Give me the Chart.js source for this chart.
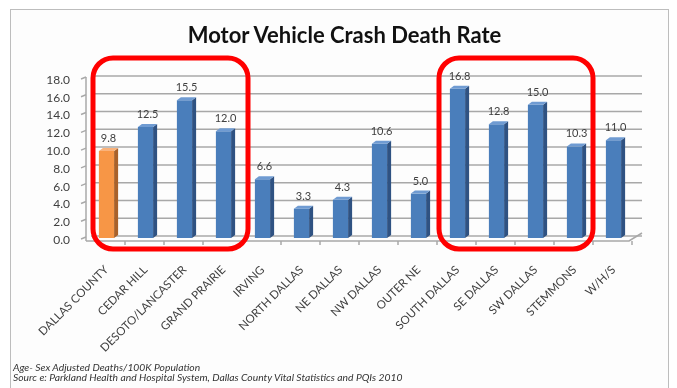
<!DOCTYPE html>
<html>
<head>
<meta charset="utf-8">
<script src="https://cdn.jsdelivr.net/npm/chart.js@4/dist/chart.umd.min.js"></script>
<style>
  html, body { margin: 0; padding: 0; background: #ffffff; }
  #wrap { position: relative; width: 677px; height: 388px; overflow: hidden; }
  #frame { position: absolute; left: 10px; top: 9px; width: 657px; height: 400px; border: 1.5px solid #bdbdbd; background: #fdfdfd; }
  #myChart { position: absolute; left: 0; top: 0; }
  #title { position: absolute; left: 0; width: 689px; top: 21px; text-align: center; font-family: Lato, 'Liberation Sans', sans-serif; font-weight: bold; font-size: 22px; color: #111; }
  .note { position: absolute; left: 13px; font-family: Lato, 'Liberation Sans', sans-serif; font-style: italic; font-size: 10.3px; color: #333; white-space: nowrap; }
</style>
</head>
<body>
<div id="wrap">
  <div id="frame"></div>
  <canvas id="myChart" width="677" height="388"></canvas>
  <div id="title">Motor Vehicle Crash Death Rate</div>
  <div class="note" style="top:361px">Age- Sex Adjusted Deaths/100K Population</div>
  <div class="note" style="top:371px">Sourc e: Parkland Health and Hospital System, Dallas County Vital Statistics and PQIs 2010</div>
</div>
<script>
let barCtx = document.getElementById('myChart').getContext('2d');

// areas and their rates
const areas = ['DALLAS COUNTY', 'CEDAR HILL', 'DESOTO/LANCASTER', 'GRAND PRAIRIE', 'IRVING',
    'NORTH DALLAS', 'NE DALLAS', 'NW DALLAS', 'OUTER NE', 'SOUTH DALLAS', 'SE DALLAS',
    'SW DALLAS', 'STEMMONS', 'W/H/S'];
const deathRates = [9.8, 12.5, 15.5, 12.0, 6.6, 3.3, 4.3, 10.6, 5.0, 16.8, 12.8, 15.0, 10.3, 11.0];
const yTicks = [0, 2, 4, 6, 8, 10, 12, 14, 16, 18];
// groups circled in red (first and last category index)
const circledGroups = [[0, 3], [9, 12]];

const blue = { front: '#4a7ebb', side: '#2f5282', top: '#6f9bd2' };
const orange = { front: '#f79646', side: '#a9612a', top: '#fab27a' };
const pick = (i) => i === 0 ? orange : blue;

const font = "Lato, 'Liberation Sans', sans-serif";

// 3d-ish box frame behind the bars: back wall lines, axis, floor
const wallPlugin = {
    id: 'wall',
    beforeDatasetsDraw(chart) {
        const { ctx, chartArea: a, scales: { x, y } } = chart;
        const y0 = y.getPixelForValue(0);
        ctx.save();
        ctx.strokeStyle = '#a8a8a8';
        ctx.lineWidth = 1.5;
        yTicks.forEach(v => {
            const py = y.getPixelForValue(v) - 2;
            ctx.beginPath();
            ctx.moveTo(a.left + 4, py);
            ctx.lineTo(a.right + 9, py);
            ctx.stroke();
            // small tick at the front axis
            ctx.beginPath();
            ctx.moveTo(a.left - 6, py + 3);
            ctx.lineTo(a.left - 1, py + 1);
            ctx.stroke();
        });
        // front axis
        ctx.beginPath();
        ctx.moveTo(a.left - 1, y.getPixelForValue(18) - 1);
        ctx.lineTo(a.left - 1, y0 + 3);
        ctx.stroke();
        // floor edges
        ctx.beginPath();
        ctx.moveTo(a.left - 1, y0 + 3);
        ctx.lineTo(a.right - 4, y0 + 3);
        ctx.lineTo(a.right + 9, y0 - 5);
        ctx.stroke();
        const step = x.getPixelForValue(1) - x.getPixelForValue(0);
        for (let i = 1; i <= areas.length; i++) {
            const px = x.getPixelForValue(i) - step / 2 - 1;
            ctx.beginPath();
            ctx.moveTo(px, y0 + 3);
            ctx.lineTo(px, y0 + 7);
            ctx.stroke();
        }
        ctx.restore();
    },
    afterDatasetsDraw(chart) {
        const { ctx, scales: { x, y } } = chart;
        const meta = chart.getDatasetMeta(0);
        const d = 4, dd = 3;
        ctx.save();
        meta.data.forEach((bar, i) => {
            const c = pick(i);
            const l = bar.x - bar.width / 2, r = bar.x + bar.width / 2;
            // side face
            ctx.fillStyle = c.side;
            ctx.beginPath();
            ctx.moveTo(r, bar.y);
            ctx.lineTo(r + d, bar.y - dd);
            ctx.lineTo(r + d, bar.base - dd);
            ctx.lineTo(r, bar.base);
            ctx.closePath();
            ctx.fill();
            // top face
            ctx.fillStyle = c.top;
            ctx.beginPath();
            ctx.moveTo(l, bar.y);
            ctx.lineTo(l + d, bar.y - dd);
            ctx.lineTo(r + d, bar.y - dd);
            ctx.lineTo(r, bar.y);
            ctx.closePath();
            ctx.fill();
            // value label
            ctx.fillStyle = '#404040';
            ctx.font = '11px ' + font;
            ctx.textAlign = 'center';
            ctx.textBaseline = 'bottom';
            ctx.fillText(deathRates[i].toFixed(1), bar.x + 2, bar.y - 7);
        });

        // red rounded boxes round the circled groups
        const step = x.getPixelForValue(1) - x.getPixelForValue(0);
        const top = y.getPixelForValue(18) - 20;
        const bottom = y.getPixelForValue(0) + 11;
        ctx.strokeStyle = '#ff0000';
        ctx.lineWidth = 5;
        circledGroups.forEach(([a, b], k) => {
            const left = x.getPixelForValue(a) - step / 2 + (k === 0 ? 6 : 1);
            const right = x.getPixelForValue(b) + step / 2 + (k === 0 ? 5 : -1);
            ctx.beginPath();
            ctx.roundRect(left, top, right - left, bottom - top, 20);
            ctx.stroke();
        });
        ctx.restore();
    }
};

new Chart(barCtx, {
    type: 'bar',
    data: {
        labels: areas,
        datasets: [{
            data: deathRates,
            backgroundColor: areas.map((_, i) => pick(i).front),
            barPercentage: 0.39,
            categoryPercentage: 1
        }]
    },
    options: {
        responsive: false,
        animation: false,
        layout: { padding: { left: 0, right: 44, top: 78, bottom: 0 } },
        plugins: {
            legend: { display: false },
            tooltip: { enabled: false }
        },
        scales: {
            x: {
                grid: { display: false },
                border: { display: false },
                ticks: {
                    color: '#404040',
                    font: { family: font, size: 11.5 },
                    minRotation: 45,
                    maxRotation: 45,
                    padding: 17,
                    autoSkip: false
                },
                afterFit(scale) { scale.height = 150; }
            },
            y: {
                min: 0,
                max: 18,
                afterBuildTicks(scale) { scale.ticks = yTicks.map(v => ({ value: v })); },
                grid: { display: false },
                border: { display: false },
                ticks: {
                    color: '#404040',
                    font: { family: font, size: 12 },
                    padding: 9,
                    labelOffset: 2,
                    callback: (v) => v.toFixed(1)
                },
                afterFit(scale) { scale.width = 87; }
            }
        }
    },
    plugins: [wallPlugin]
});
</script>
</body>
</html>
